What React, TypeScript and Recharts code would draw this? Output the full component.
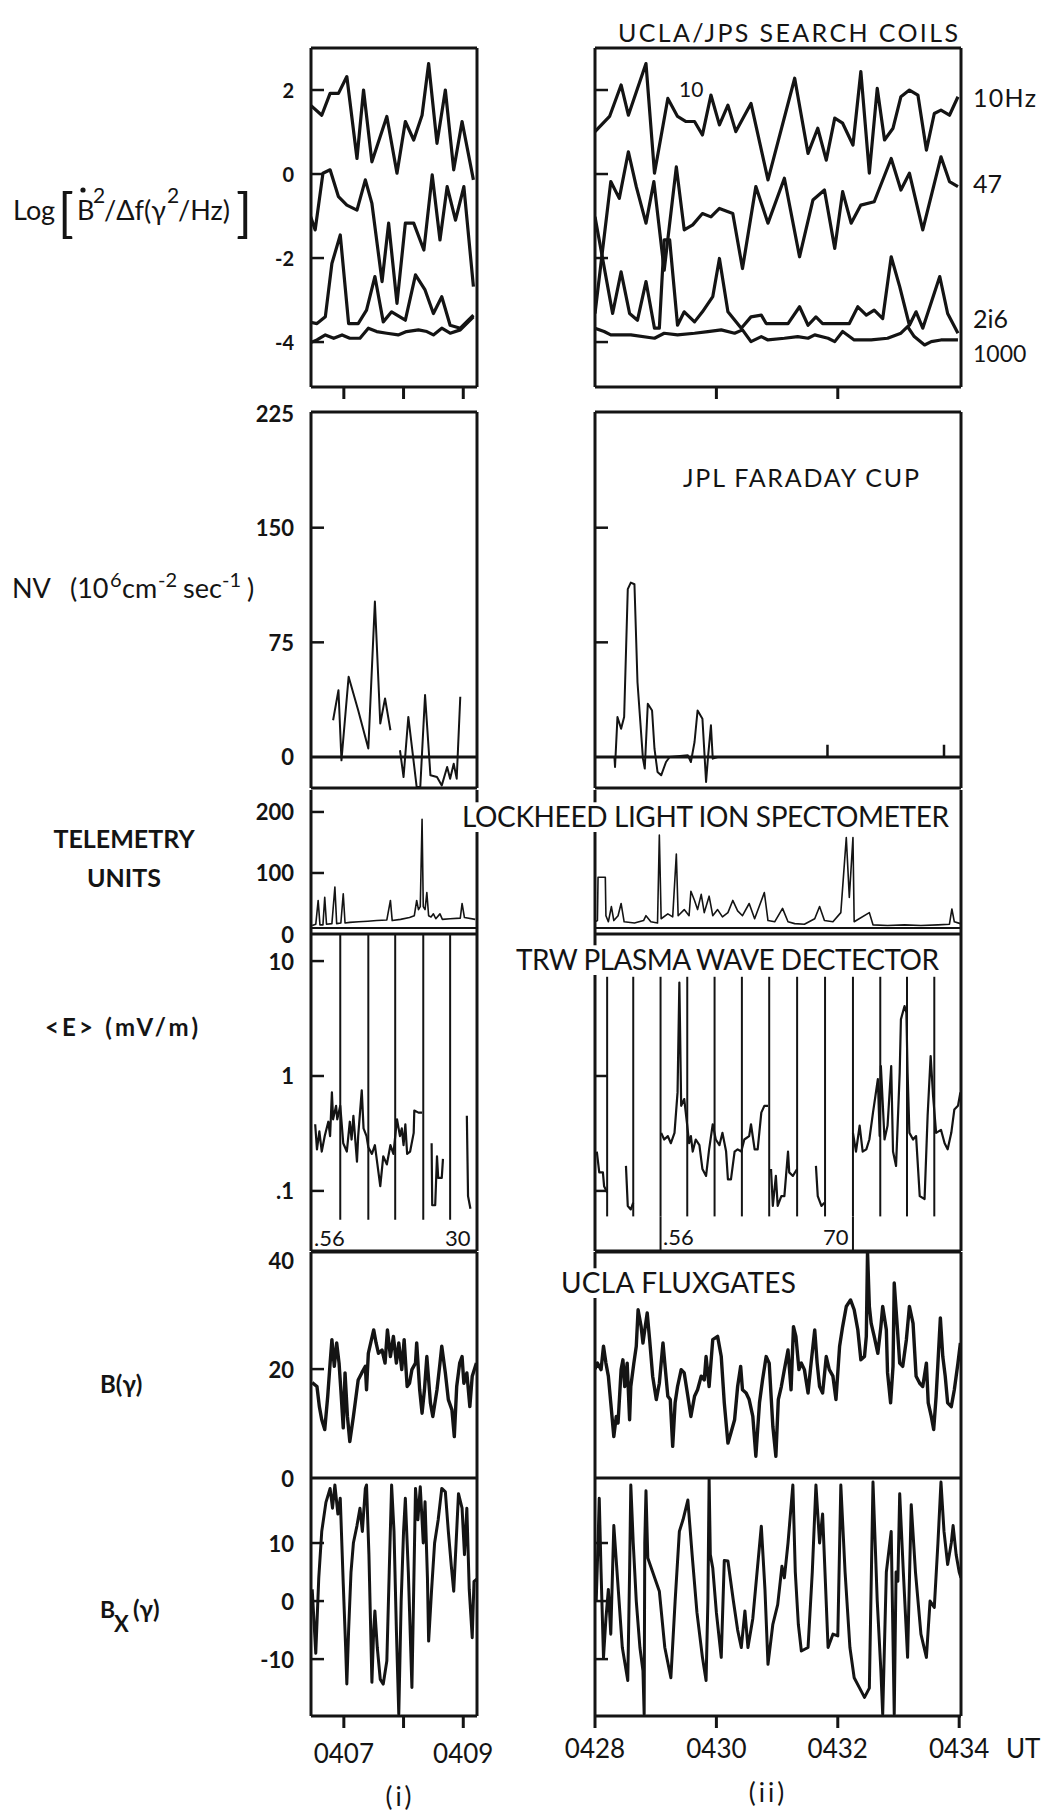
import React from 'react';
import { LineChart, Line, XAxis, YAxis, ReferenceLine } from 'recharts';

const INK = '#141414';
const FONT = "Lato, 'DejaVu Sans', sans-serif";

type Pair = [number, number | null];

// time axis in minutes after 0400 UT
const timeLeft: [number, number] = [406.45, 409.23];
const timeRight: [number, number] = [428, 434.03];
const timeTicksLeft = [407, 408, 409];
const timeTicksRight = [428, 430, 432, 434];
const timeLabelsLeft: Record<string, string> = { '407': '0407', '409': '0409' };
const timeLabelsRight: Record<string, string> = { '428': '0428', '430': '0430', '432': '0432', '434': '0434' };

// search coils, log power
const coil10L: Pair[] = [[406.41,1.68],[406.63,1.40],[406.77,1.92],[406.91,1.92],[407.05,2.32],[407.22,0.37],[407.33,2.0],[407.47,0.29],[407.72,1.37],[407.89,0.02],[408.03,1.25],[408.17,0.81],[408.31,1.40],[408.42,2.63],[408.56,0.73],[408.70,2.0],[408.84,0.10],[408.98,1.25],[409.17,-0.14]];
const coil47L: Pair[] = [[406.41,0],[406.44,-1.0],[406.52,-1.33],[406.65,0.02],[406.77,0.10],[406.91,-0.54],[407.05,-0.74],[407.22,-0.86],[407.36,-0.14],[407.47,-0.70],[407.64,-2.56],[407.75,-1.17],[407.89,-3.08],[408.03,-1.17],[408.17,-1.17],[408.34,-1.81],[408.48,-0.02],[408.61,-1.57],[408.73,-0.30],[408.87,-1.10],[409.01,-0.30],[409.17,-2.68]];
const coil216L: Pair[] = [[406.41,-3.52],[406.55,-3.56],[406.69,-3.40],[406.80,-2.13],[406.94,-1.45],[407.08,-3.56],[407.24,-3.56],[407.38,-3.24],[407.52,-2.44],[407.66,-3.52],[407.80,-3.28],[408.03,-3.48],[408.20,-2.40],[408.36,-2.76],[408.50,-3.32],[408.64,-2.92],[408.78,-3.60],[408.95,-3.67],[409.17,-3.36]];
const coil1000L: Pair[] = [[406.41,-4.03],[406.55,-3.95],[406.69,-3.83],[406.83,-3.91],[406.97,-3.83],[407.10,-3.91],[407.27,-3.91],[407.41,-3.67],[407.55,-3.75],[407.72,-3.79],[407.91,-3.83],[408.05,-3.75],[408.25,-3.71],[408.39,-3.75],[408.50,-3.83],[408.64,-3.67],[408.78,-3.79],[408.95,-3.71],[409.17,-3.40]];

const coil10R: Pair[] = [[428.0,1.01],[428.24,1.37],[428.43,2.12],[428.55,1.40],[428.84,2.63],[428.98,0.02],[429.20,1.80],[429.36,1.37],[429.50,1.25],[429.64,1.25],[429.77,0.93],[429.91,1.88],[430.05,1.17],[430.19,1.64],[430.32,1.01],[430.57,1.68],[430.85,-0.14],[431.29,2.28],[431.51,0.49],[431.67,1.09],[431.81,0.33],[431.95,1.33],[432.08,1.21],[432.25,0.69],[432.38,2.44],[432.52,0.02],[432.65,2.04],[432.77,0.81],[432.91,1.09],[433.04,1.84],[433.18,2.0],[433.32,1.88],[433.46,0.57],[433.59,1.44],[433.70,1.52],[433.84,1.40],[433.98,1.84]];
const coil47R: Pair[] = [[428.0,-3.32],[428.26,-0.18],[428.40,-0.58],[428.55,0.53],[428.68,-0.30],[428.84,-1.17],[428.97,-0.18],[429.14,-2.29],[429.34,0.17],[429.47,-1.33],[429.61,-1.21],[429.77,-0.94],[429.91,-1.02],[430.05,-0.82],[430.27,-0.94],[430.43,-2.25],[430.65,-0.30],[430.85,-1.17],[431.12,-0.10],[431.37,-1.97],[431.59,-0.62],[431.78,-0.38],[431.95,-1.77],[432.08,-0.42],[432.22,-1.17],[432.38,-0.74],[432.60,-0.66],[432.88,0.37],[433.04,-0.38],[433.18,0.02],[433.40,-1.33],[433.70,0.41],[433.84,-0.18],[433.98,-0.30]];
const coil216R: Pair[] = [[428.0,-1.02],[428.29,-3.32],[428.43,-2.33],[428.57,-3.32],[428.70,-3.48],[428.84,-2.56],[428.98,-3.67],[429.06,-3.67],[429.14,-1.57],[429.23,-1.57],[429.36,-3.60],[429.47,-3.28],[429.64,-3.52],[429.77,-3.28],[429.94,-2.92],[430.05,-2.01],[430.19,-3.28],[430.41,-3.67],[430.57,-3.40],[430.74,-3.36],[430.82,-3.56],[431.18,-3.56],[431.37,-3.16],[431.51,-3.60],[431.64,-3.40],[431.75,-3.56],[432.19,-3.56],[432.33,-3.16],[432.47,-3.36],[432.60,-3.24],[432.74,-3.44],[432.88,-1.97],[433.02,-2.68],[433.18,-3.60],[433.29,-3.28],[433.40,-3.67],[433.68,-2.44],[433.81,-3.32],[433.98,-3.79]];
const coil1000R: Pair[] = [[428.0,-3.67],[428.15,-3.75],[428.26,-3.83],[428.59,-3.83],[428.98,-3.91],[429.14,-3.79],[429.36,-3.83],[429.64,-3.79],[429.86,-3.75],[430.08,-3.71],[430.30,-3.79],[430.43,-3.71],[430.57,-3.99],[430.74,-3.87],[430.85,-3.95],[431.12,-3.91],[431.34,-3.87],[431.51,-3.91],[431.62,-3.83],[431.84,-3.91],[431.95,-3.99],[432.08,-3.75],[432.27,-3.95],[432.55,-3.95],[432.82,-3.91],[433.04,-3.79],[433.15,-3.63],[433.26,-3.87],[433.43,-4.07],[433.54,-3.99],[433.70,-3.95],[433.98,-3.95]];

// Faraday cup flux NV
const nvL: Pair[] = [[406.82,24],[406.91,43.7],[406.96,-2.2],[407.08,52.5],[407.24,30.6],[407.41,5.5],[407.52,101.7],[407.61,21.9],[407.69,38.3],[407.78,17.5],[407.86,null],[407.94,4.4],[408.0,-13.1],[408.08,26.2],[408.22,-19.7],[408.28,-19.7],[408.36,40.5],[408.45,-12],[408.56,-13.1],[408.64,-18.6],[408.73,-6.6],[408.78,-14.2],[408.84,-4.4],[408.89,-14.2],[408.95,39.4]];
const nvR: Pair[] = [[428.32,0],[428.33,-6.5],[428.37,26.1],[428.43,18.5],[428.48,26.1],[428.54,109.8],[428.59,114.1],[428.65,113],[428.70,48.9],[428.79,-1.1],[428.82,-7.6],[428.87,34.8],[428.94,30.4],[428.98,5.4],[429.03,-9.8],[429.09,-12],[429.17,-3.3],[429.23,0],[429.53,1.1],[429.58,-3.3],[429.64,9.8],[429.69,30.4],[429.77,25],[429.83,-16.3],[429.86,-1.1],[429.91,20.7],[429.94,-1.1],[430.02,0]];
const nvZeroTicksR = [431.83, 433.75];

// light ion spectometer, telemetry units
const telL: Pair[] = [[406.47,14],[406.53,16],[406.57,55],[406.60,15],[406.65,15],[406.68,60],[406.71,16],[406.80,17],[406.85,77],[406.88,17],[406.95,18],[406.99,66],[407.02,18],[407.10,19],[407.25,20],[407.40,21],[407.55,22],[407.72,23],[407.78,55],[407.81,22],[407.95,24],[408.10,27],[408.18,30],[408.22,55],[408.25,40],[408.28,45],[408.31,188],[408.33,45],[408.36,40],[408.39,68],[408.42,30],[408.46,28],[408.50,33],[408.54,25],[408.61,33],[408.65,24],[408.78,25],[408.95,26],[408.98,50],[409.02,27],[409.20,24]];
const telR: Pair[] = [[428.0,20],[428.04,22],[428.05,93],[428.17,93],[428.18,30],[428.22,20],[428.27,45],[428.31,22],[428.38,30],[428.43,50],[428.48,20],[428.65,18],[428.80,22],[428.84,30],[428.92,20],[429.03,18],[429.06,162],[429.09,25],[429.20,33],[429.28,28],[429.34,131],[429.37,30],[429.47,40],[429.55,30],[429.58,70],[429.64,55],[429.69,40],[429.75,65],[429.80,35],[429.88,62],[429.94,30],[430.02,40],[430.10,28],[430.19,35],[430.27,55],[430.35,38],[430.43,30],[430.54,50],[430.63,25],[430.79,68],[430.85,22],[430.96,20],[431.09,42],[431.18,20],[431.29,17],[431.45,16],[431.62,25],[431.70,45],[431.78,22],[431.92,20],[432.05,35],[432.14,158],[432.19,60],[432.25,158],[432.27,20],[432.52,35],[432.58,15],[432.82,14],[433.10,15],[433.37,14],[433.65,15],[433.84,16],[433.88,41],[433.92,20],[434.02,17]];

// plasma wave detector <E>, mV/m
const eL: Pair[] = [[406.52,0.38],[406.55,0.23],[406.59,0.33],[406.63,0.22],[406.68,0.30],[406.74,0.40],[406.77,0.30],[406.80,0.72],[406.82,0.42],[406.87,0.55],[406.89,0.42],[406.94,0.55],[406.99,0.26],[407.05,0.22],[407.10,0.40],[407.13,0.28],[407.16,0.45],[407.22,0.18],[407.24,0.30],[407.30,0.75],[407.33,0.35],[407.38,0.30],[407.41,0.24],[407.47,0.21],[407.52,0.25],[407.61,0.11],[407.66,0.20],[407.72,0.17],[407.78,0.25],[407.83,0.21],[407.89,0.42],[407.94,0.30],[407.97,0.35],[408.0,0.25],[408.03,0.38],[408.06,0.21],[408.11,0.22],[408.17,0.32],[408.18,0.50],[408.25,0.48],[408.31,0.48],[408.32,null],[408.47,0.26],[408.48,0.075],[408.53,0.075],[408.56,0.20],[408.58,0.13],[408.64,0.13],[408.66,0.19],[408.67,null],[409.06,0.45],[409.08,0.09],[409.12,0.07]];
const eR: Pair[] = [[428.03,0.22],[428.07,0.145],[428.13,0.145],[428.15,0.11],[428.20,0.097],[428.21,null],
  [428.51,0.165],[428.54,0.074],[428.59,0.069],[428.63,0.079],[428.64,null],
  [429.09,0.32],[429.14,0.28],[429.20,0.30],[429.25,0.26],[429.31,0.32],[429.36,0.72],[429.39,6.5],[429.42,0.55],[429.47,0.63],[429.52,0.37],[429.55,0.26],[429.58,0.30],[429.61,0.22],[429.66,0.28],[429.72,0.25],[429.77,0.155],[429.83,0.135],[429.88,0.23],[429.94,0.38],[429.99,0.28],[430.05,0.25],[430.10,0.32],[430.16,0.22],[430.19,0.126],[430.24,0.126],[430.30,0.22],[430.35,0.23],[430.41,0.22],[430.46,0.28],[430.54,0.30],[430.57,0.38],[430.63,0.23],[430.68,0.23],[430.74,0.48],[430.79,0.55],[430.85,0.55],[430.86,null],
  [430.90,0.155],[430.93,0.074],[430.98,0.135],[431.01,0.074],[431.07,0.09],[431.12,0.09],[431.18,0.22],[431.20,0.145],[431.26,0.135],[431.33,0.155],[431.34,null],
  [431.64,0.165],[431.67,0.09],[431.73,0.074],[431.78,0.079],[431.79,null],
  [432.25,0.32],[432.30,0.22],[432.36,0.37],[432.41,0.22],[432.47,0.23],[432.52,0.28],[432.58,0.48],[432.62,0.67],[432.66,0.94],[432.69,0.30],[432.71,1.22],[432.77,0.28],[432.82,0.37],[432.88,1.22],[432.91,0.22],[432.96,0.165],[433.02,1.07],[433.04,3.11],[433.10,4.06],[433.13,3.56],[433.15,1.07],[433.18,0.32],[433.24,0.28],[433.29,0.30],[433.35,0.09],[433.43,0.085],[433.48,0.45],[433.53,1.49],[433.57,0.67],[433.62,0.32],[433.70,0.34],[433.76,0.26],[433.81,0.23],[433.87,0.32],[433.92,0.51],[433.98,0.55],[434.02,0.72]];
const eCalL = [406.94, 407.41, 407.86, 408.33, 408.78];
const eCalR = [428.20, 428.63, 429.08, 429.52, 429.97, 430.42, 430.87, 431.33, 431.79, 432.25, 432.70, 433.14, 433.59];
const eMarkR = [429.08, 432.25];

// fluxgate |B| and Bx, gamma
const bL: Pair[] = [[406.47,17.5],[406.55,16.8],[406.59,13.1],[406.63,10.7],[406.68,8.9],[406.73,15.0],[406.77,21.1],[406.80,25.4],[406.84,20.5],[406.88,24.8],[406.92,21.1],[406.95,16.2],[406.99,9.2],[407.02,19.3],[407.06,11.3],[407.10,6.7],[407.16,11.3],[407.19,13.8],[407.24,18.0],[407.30,19.3],[407.36,20.5],[407.38,16.2],[407.41,22.9],[407.45,24.8],[407.50,27.2],[407.54,24.8],[407.58,22.9],[407.64,23.5],[407.69,21.1],[407.73,27.2],[407.78,22.3],[407.83,26.0],[407.88,21.1],[407.92,24.8],[407.97,19.9],[408.01,25.4],[408.06,16.8],[408.10,17.4],[408.14,19.9],[408.20,21.1],[408.22,24.8],[408.27,16.2],[408.31,11.9],[408.35,16.2],[408.39,22.3],[408.45,13.8],[408.49,11.3],[408.56,16.2],[408.61,21.1],[408.64,24.2],[408.70,19.3],[408.75,14.4],[408.81,12.5],[408.85,7.6],[408.89,16.8],[408.94,21.1],[408.98,22.3],[409.01,17.4],[409.06,19.3],[409.11,13.1],[409.15,18.7],[409.22,21.1]];
const bR: Pair[] = [[428.0,20],[428.04,21.1],[428.10,19.9],[428.14,24.2],[428.18,21.1],[428.22,18.7],[428.26,13.8],[428.31,7.6],[428.35,11.3],[428.38,10.1],[428.43,19.9],[428.46,21.7],[428.49,16.8],[428.53,21.1],[428.57,10.7],[428.59,16.8],[428.64,21.1],[428.68,24.2],[428.71,30.9],[428.76,27.8],[428.79,24.8],[428.82,27.2],[428.86,30.3],[428.90,25.4],[428.95,18.7],[429.01,14.4],[429.06,17.4],[429.12,24.8],[429.15,21.1],[429.20,15.0],[429.24,14.4],[429.28,5.8],[429.32,13.8],[429.36,16.8],[429.42,19.9],[429.47,19.3],[429.53,15.0],[429.58,11.3],[429.64,15.0],[429.69,16.2],[429.75,18.7],[429.80,18.0],[429.83,22.3],[429.88,16.8],[429.94,25.4],[430.02,26.0],[430.08,22.3],[430.13,13.8],[430.19,6.4],[430.24,8.3],[430.30,10.7],[430.35,16.8],[430.40,20.5],[430.43,16.2],[430.49,15.6],[430.54,14.4],[430.60,11.3],[430.65,4.0],[430.71,13.8],[430.76,18.0],[430.82,22.3],[430.87,21.1],[430.93,9.5],[430.98,4.0],[431.02,14.4],[431.07,16.8],[431.12,19.9],[431.18,23.5],[431.23,16.2],[431.27,27.8],[431.31,26.0],[431.36,19.9],[431.40,21.1],[431.45,19.9],[431.51,15.6],[431.56,21.1],[431.62,27.2],[431.66,21.1],[431.70,16.8],[431.75,15.6],[431.81,22.3],[431.86,19.9],[431.92,18.7],[431.97,14.4],[432.03,24.2],[432.08,27.8],[432.14,31.5],[432.21,32.7],[432.27,30.9],[432.33,27.2],[432.38,21.7],[432.44,22.3],[432.47,26.0],[432.49,41.5],[432.52,31.5],[432.55,28.4],[432.60,26.0],[432.66,22.9],[432.71,27.8],[432.74,31.5],[432.80,27.2],[432.82,19.3],[432.87,13.8],[432.91,20.5],[432.93,35.8],[432.98,27.8],[433.02,21.1],[433.07,20.5],[433.13,25.4],[433.18,31.5],[433.24,28.4],[433.29,18.7],[433.35,17.4],[433.40,16.8],[433.46,21.1],[433.49,13.8],[433.54,11.3],[433.58,8.9],[433.62,15.0],[433.65,21.1],[433.69,29.4],[433.73,22.3],[433.77,18.7],[433.81,13.8],[433.87,13.1],[433.92,16.2],[433.98,21.1],[434.02,24.8]];
const bxL: Pair[] = [[406.47,2],[406.53,-9],[406.58,4],[406.63,12],[406.70,17],[406.77,19.4],[406.81,16],[406.85,20],[406.90,15],[406.94,17.7],[406.99,3],[407.03,-8],[407.05,-14.3],[407.08,-5],[407.12,5],[407.16,10],[407.22,13],[407.27,16],[407.31,12],[407.36,19.4],[407.38,20],[407.42,8],[407.47,-14],[407.50,-5],[407.52,-1.7],[407.56,-8],[407.61,-13.5],[407.66,-14.3],[407.72,-10.3],[407.76,5],[407.80,20],[407.84,12],[407.88,-5],[407.92,-19.5],[407.96,0],[408.00,12],[408.03,17.7],[408.08,5],[408.14,-14.9],[408.17,2],[408.20,19.4],[408.24,14],[408.28,19.7],[408.33,10],[408.36,17.1],[408.40,4],[408.42,-6.9],[408.47,2],[408.52,10],[408.58,14],[408.64,19.4],[408.70,18.8],[408.75,12],[408.80,6],[408.84,1.7],[408.88,10],[408.92,18.5],[408.98,16],[409.02,8],[409.06,16],[409.10,2],[409.15,-6.3],[409.18,3.4],[409.23,3.8]];
const bxR: Pair[] = [[428.02,0],[428.05,10],[428.07,17.7],[428.10,5],[428.14,-9.7],[428.18,-3],[428.22,2],[428.26,-5.7],[428.31,13],[428.37,4],[428.45,-8],[428.54,-13.7],[428.57,5],[428.59,20],[428.63,10],[428.68,0],[428.74,-8],[428.79,-12],[428.81,-19.5],[428.82,10],[428.84,19],[428.87,7.4],[428.95,5],[429.06,1.7],[429.15,-8],[429.25,-13.2],[429.32,0],[429.39,12],[429.45,14],[429.53,17.4],[429.60,8],[429.68,-2],[429.77,-9.7],[429.83,-13.7],[429.86,0],[429.88,21],[429.90,8],[429.94,5.7],[430.00,-2],[430.08,-9.7],[430.13,7],[430.19,6.9],[430.28,0],[430.35,-5],[430.41,-8],[430.47,-1.7],[430.52,-8],[430.60,-3],[430.67,5],[430.74,12.9],[430.80,2],[430.85,-10.9],[430.93,-4],[431.01,-0.6],[431.08,6],[431.12,4],[431.18,10],[431.26,20],[431.30,5],[431.35,-4],[431.40,-8.6],[431.51,-8],[431.58,5],[431.64,20],[431.70,10],[431.75,15],[431.84,-8],[431.92,-5.7],[432.00,-6],[432.05,20],[432.12,5],[432.20,-8],[432.27,-13.2],[432.36,-15],[432.44,-16.6],[432.52,-15],[432.58,20.5],[432.65,0],[432.71,-12],[432.74,-19.5],[432.80,5],[432.88,12],[432.93,-19.5],[432.96,5],[432.99,3.4],[433.02,18.5],[433.08,5],[433.15,-9.7],[433.21,16.6],[433.28,5],[433.37,-5.7],[433.46,-9.7],[433.52,0],[433.59,-1.1],[433.65,10],[433.70,20.5],[433.75,12],[433.81,6.3],[433.87,10],[433.90,13],[433.95,8],[434.00,5],[434.03,4]];

type Seg = { t: number; lo: number; hi: number; w?: number };
type PanelCfg = {
  key: string;
  x: number; y: number; w: number; h: number;
  xDomain: [number, number];
  yDomain: [number, number];
  log?: boolean;
  yTicks?: number[];
  yLabels?: Record<string, string>;
  yMarks?: number[];
  labelSize?: number;
  xTicks?: number[];
  xLabels?: Record<string, string>;
  xLabelDy?: number;
  padB?: number;
  top?: boolean;
  lines: { data: Pair[]; w: number }[];
  hLines?: { v: number; w: number }[];
  segs?: Seg[];
};

const LX = 311, LW = 166, RX = 595, RW = 366;

const panels: PanelCfg[] = [
  { key: 'p1l', x: LX, y: 48, w: LW, h: 339, xDomain: timeLeft, yDomain: [-5.07, 3], top: true, padB: 20,
    yTicks: [2, 0, -2, -4], yLabels: { '2': '2', '0': '0', '-2': '-2', '-4': '-4' }, yMarks: [2, 0, -2, -4], labelSize: 20,
    xTicks: timeTicksLeft,
    lines: [coil10L, coil47L, coil216L, coil1000L].map((d) => ({ data: d, w: 3.2 })) },
  { key: 'p1r', x: RX, y: 48, w: RW, h: 339, xDomain: timeRight, yDomain: [-5.07, 3], top: true, padB: 20,
    yTicks: [2, 0, -2, -4], yMarks: [2, 0, -2, -4], xTicks: [430, 432],
    lines: [coil10R, coil47R, coil216R, coil1000R].map((d) => ({ data: d, w: 3.2 })) },
  { key: 'p2l', x: LX, y: 412, w: LW, h: 376, xDomain: timeLeft, yDomain: [-20.3, 225.7], top: true,
    yTicks: [225, 150, 75, 0], yLabels: { '225': '225', '150': '150', '75': '75', '0': '0' }, yMarks: [150, 75],
    hLines: [{ v: 0, w: 3 }], lines: [{ data: nvL, w: 2 }] },
  { key: 'p2r', x: RX, y: 412, w: RW, h: 376, xDomain: timeRight, yDomain: [-20.3, 225.7], top: true,
    yTicks: [150, 75], yMarks: [150, 75], hLines: [{ v: 0, w: 3 }],
    segs: nvZeroTicksR.map((t) => ({ t, lo: 0, hi: 8, w: 2.5 })), lines: [{ data: nvR, w: 2 }] },
  { key: 'p3l', x: LX, y: 790, w: LW, h: 144, xDomain: timeLeft, yDomain: [0, 236],
    yTicks: [200, 100, 0], yLabels: { '200': '200', '100': '100', '0': '0' }, yMarks: [200, 100],
    hLines: [{ v: 10, w: 2 }], lines: [{ data: telL, w: 1.6 }] },
  { key: 'p3r', x: RX, y: 790, w: RW, h: 144, xDomain: timeRight, yDomain: [0, 236],
    hLines: [{ v: 10, w: 2 }], lines: [{ data: telR, w: 1.6 }] },
  { key: 'p4l', x: LX, y: 934, w: LW, h: 317, xDomain: timeLeft, yDomain: [0.03, 17.2], log: true,
    yTicks: [10, 1, 0.1], yLabels: { '10': '10', '1': '1', '0.1': '.1' }, yMarks: [10, 1, 0.1],
    segs: eCalL.map((t) => ({ t, lo: 0.056, hi: 17.2 })), lines: [{ data: eL, w: 2.2 }] },
  { key: 'p4r', x: RX, y: 934, w: RW, h: 317, xDomain: timeRight, yDomain: [0.03, 17.2], log: true,
    yTicks: [1, 0.1], yMarks: [1, 0.1],
    segs: [...eCalR.map((t) => ({ t, lo: 0.06, hi: 7.3 })), ...eMarkR.map((t) => ({ t, lo: 0.03, hi: 0.06 }))],
    lines: [{ data: eR, w: 2.2 }] },
  { key: 'p5l', x: LX, y: 1252, w: LW, h: 226, xDomain: timeLeft, yDomain: [0, 41.5], top: true,
    yTicks: [40, 20, 0], yLabels: { '40': '40', '20': '20', '0': '0' }, yMarks: [20],
    lines: [{ data: bL, w: 3.4 }] },
  { key: 'p5r', x: RX, y: 1252, w: RW, h: 226, xDomain: timeRight, yDomain: [0, 41.5], top: true,
    lines: [{ data: bR, w: 3.4 }] },
  { key: 'p6l', x: LX, y: 1478, w: LW, h: 238, xDomain: timeLeft, yDomain: [-19.8, 21.2], padB: 62,
    yTicks: [10, 0, -10], yLabels: { '10': '10', '0': '0', '-10': '-10' }, yMarks: [10, 0, -10],
    xTicks: timeTicksLeft, xLabels: timeLabelsLeft, xLabelDy: 47,
    lines: [{ data: bxL, w: 3 }] },
  { key: 'p6r', x: RX, y: 1478, w: RW, h: 238, xDomain: timeRight, yDomain: [-19.8, 21.2], padB: 62,
    yTicks: [10, 0, -10], yMarks: [10, 0, -10],
    xTicks: timeTicksRight, xLabels: timeLabelsRight, xLabelDy: 42,
    lines: [{ data: bxR, w: 3 }] },
];

const toPts = (arr: Pair[]) => arr.map(([t, v]) => ({ t, v }));

const renderPanel = (p: PanelCfg) => {
  const padL = p.x === LX ? 80 : 40;
  const padT = 16, padR = 40, padB = p.padB ?? 16;
  const W = padL + p.w + padR;
  const H = padT + p.h + padB;
  const ids = { xAxisId: 'x', yAxisId: 'y' };
  const border = { stroke: INK, strokeWidth: 3 };

  const yTick = (props: any) => {
    const { y, payload } = props;
    const v = payload?.value;
    const label = p.yLabels ? p.yLabels[String(v)] : undefined;
    const mark = (p.yMarks ?? []).includes(v);
    return (
      <g>
        {mark ? <line x1={padL} x2={padL + 13} y1={y} y2={y} stroke={INK} strokeWidth={2.5} /> : null}
        {label ? (
          <text x={padL - 17} y={y} textAnchor="end" dominantBaseline="central" fontFamily={FONT}
            fontWeight={700} fontSize={p.labelSize ?? 22} fill={INK}>{label}</text>
        ) : null}
      </g>
    );
  };

  const xTick = (props: any) => {
    const { x, payload } = props;
    const yb = padT + p.h;
    const label = p.xLabels ? p.xLabels[String(payload?.value)] : undefined;
    return (
      <g>
        <line x1={x} x2={x} y1={yb} y2={yb + 12} stroke={INK} strokeWidth={3} />
        {label ? (
          <text x={x} y={yb + (p.xLabelDy ?? 46)} textAnchor="middle" fontFamily={FONT} fontSize={26} fill={INK}>{label}</text>
        ) : null}
      </g>
    );
  };

  return (
    <div key={p.key} style={{ position: 'absolute', left: p.x - padL, top: p.y - padT, width: W, height: H }}>
      <LineChart width={W} height={H} margin={{ top: padT, right: padR, bottom: 0, left: 0 }}>
        <XAxis xAxisId="x" type="number" dataKey="t" domain={p.xDomain} allowDataOverflow height={padB}
          ticks={p.xTicks} interval={0} tick={p.xTicks ? xTick : false} tickLine={false} axisLine={border} />
        <YAxis yAxisId="y" type="number" domain={p.yDomain} scale={p.log ? 'log' : 'linear'} allowDataOverflow
          width={padL} ticks={p.yTicks} interval={0} tick={p.yTicks ? yTick : false} tickLine={false} axisLine={border} />
        {p.top ? <ReferenceLine {...ids} y={p.yDomain[1]} ifOverflow="visible" {...border} /> : null}
        <ReferenceLine {...ids} x={p.xDomain[1]} ifOverflow="visible" {...border} />
        {(p.hLines ?? []).map((h, i) => (
          <ReferenceLine key={'h' + i} {...ids} y={h.v} stroke={INK} strokeWidth={h.w} />
        ))}
        {(p.segs ?? []).map((s, i) => (
          <ReferenceLine key={'s' + i} {...ids} ifOverflow="visible"
            segment={[{ x: s.t, y: s.lo }, { x: s.t, y: s.hi }]} stroke={INK} strokeWidth={s.w ?? 2} />
        ))}
        {p.lines.map((l, i) => (
          <Line key={'l' + i} {...ids} data={toPts(l.data)} dataKey="v" type="linear" stroke={INK}
            strokeWidth={l.w} strokeLinejoin="round" dot={false} activeDot={false} isAnimationActive={false} />
        ))}
      </LineChart>
    </div>
  );
};

const titles = [
  { text: 'UCLA/JPS SEARCH COILS', x: 618, y: 42, w: 340, size: 25, bg: false },
  { text: 'JPL FARADAY CUP', x: 683, y: 487, w: 236, size: 25, bg: false },
  { text: 'LOCKHEED LIGHT ION SPECTOMETER', x: 462, y: 827, w: 487, size: 28, bg: true },
  { text: 'TRW PLASMA WAVE DECTECTOR', x: 516, y: 970, w: 423, size: 28, bg: true },
  { text: 'UCLA FLUXGATES', x: 561, y: 1293, w: 235, size: 28, bg: true },
];

const Labels = () => (
  <svg width={1042} height={1813} style={{ position: 'absolute', left: 0, top: 0, pointerEvents: 'none' }}
    fontFamily={FONT} fill={INK}>
    {titles.map((t) => (
      <g key={t.text}>
        {t.bg ? <rect x={t.x - 4} y={t.y - t.size * 0.74 - 4} width={t.w + 8} height={t.size * 0.74 + 9} fill="#fff" /> : null}
        <text x={t.x} y={t.y} fontSize={t.size} textLength={t.w} lengthAdjust="spacing">{t.text}</text>
      </g>
    ))}

    {/* search coil frequencies */}
    <text x={679} y={97} fontSize={21}>10</text>
    <text x={973} y={107} fontSize={25} textLength={63} lengthAdjust="spacing">10Hz</text>
    <text x={973} y={193} fontSize={25}>47</text>
    <text x={973} y={328} fontSize={25}>2i6</text>
    <text x={973} y={362} fontSize={23}>1000</text>

    {/* plasma wave markers */}
    <text x={314} y={1246} fontSize={22}>.56</text>
    <text x={445} y={1246} fontSize={22}>30</text>
    <text x={663} y={1245} fontSize={22}>.56</text>
    <text x={823} y={1245} fontSize={22}>70</text>

    {/* left axis titles */}
    <text fontSize={27}>
      <tspan x={13} y={220}>Log</tspan>
      <tspan x={58} y={231} fontSize={52}>[</tspan>
      <tspan x={77} y={220}>B</tspan>
      <tspan x={93} y={203} fontSize={21}>2</tspan>
      <tspan x={104} y={220}>/Δf(γ</tspan>
      <tspan x={167} y={203} fontSize={21}>2</tspan>
      <tspan x={178} y={220}>/Hz)</tspan>
      <tspan x={236} y={231} fontSize={52}>]</tspan>
    </text>
    <circle cx={83} cy={190} r={2.6} fill={INK} />
    <text fontSize={27}>
      <tspan x={12} y={598}>NV</tspan>
      <tspan x={70} y={598}>(10</tspan>
      <tspan x={110} y={587} fontSize={20}>6</tspan>
      <tspan x={122} y={598}>cm</tspan>
      <tspan x={158} y={587} fontSize={20}>-2</tspan>
      <tspan x={183} y={598}>sec</tspan>
      <tspan x={222} y={587} fontSize={20}>-1</tspan>
      <tspan x={247} y={598}>)</tspan>
    </text>
    <text x={124} y={848} fontSize={25} fontWeight={700} textAnchor="middle">TELEMETRY</text>
    <text x={124} y={887} fontSize={25} fontWeight={700} textAnchor="middle">UNITS</text>
    <text x={45} y={1036} fontSize={24} fontWeight={700} textLength={153} lengthAdjust="spacing">{'<E> (mV/m)'}</text>
    <text x={100} y={1393} fontSize={24} fontWeight={700}>B(γ)</text>
    <text fontSize={23} fontWeight={700}>
      <tspan x={100} y={1618}>B</tspan>
      <tspan x={114} y={1632} fontSize={22}>X</tspan>
      <tspan x={133} y={1618} fontSize={24}>(γ)</tspan>
    </text>

    {/* bottom */}
    <text x={1006} y={1758} fontSize={26}>UT</text>
    <text x={400} y={1806} fontSize={26} textAnchor="middle" letterSpacing={3}>(i)</text>
    <text x={768} y={1802} fontSize={26} textAnchor="middle" letterSpacing={3}>(ii)</text>
  </svg>
);

export default function App() {
  return (
    <div style={{ position: 'absolute', left: 0, top: 0, width: 1042, height: 1813, background: '#fff', overflow: 'hidden' }}>
      {panels.map(renderPanel)}
      <Labels />
    </div>
  );
}
